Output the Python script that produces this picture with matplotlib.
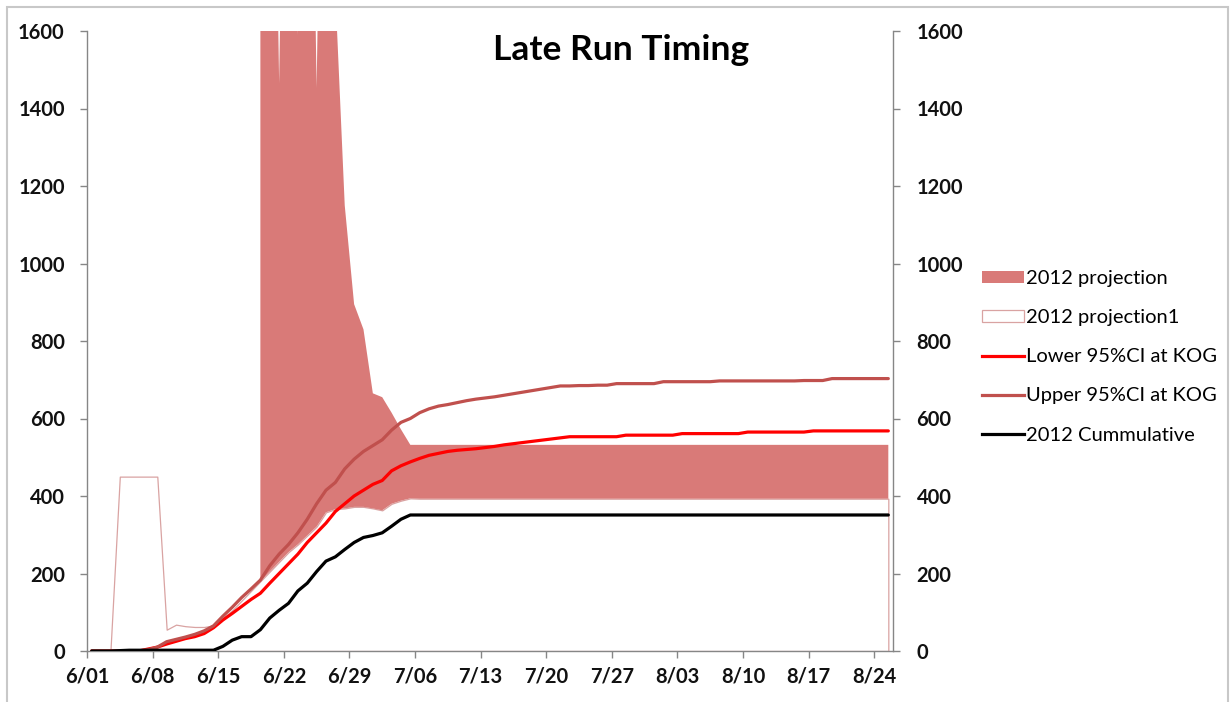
import numpy as np
import matplotlib
matplotlib.use("Agg")
import matplotlib.pyplot as plt
from matplotlib.patches import Patch, Rectangle
from matplotlib.lines import Line2D

plt.rcParams['font.family'] = ['Lato', 'DejaVu Sans']

# ---------------- data ----------------
# day index 0 = 6/01 ... 85 = 8/25
days = np.arange(86)

# 2012 projection1 (white base area of the stack)
projection1 = np.array(
    [0, 0, 0, 450, 450, 450, 450, 450, 55, 68,
     64, 62, 62, 66, 85, 105, 130, 155, 180, 205,
     230, 255, 275, 298, 321, 358, 366, 368, 372, 372,
     368, 363, 380, 388, 394] + [393] * 51, dtype=float)

# 2012 projection top (stack total) from day 18 on
proj_start = 18
projection_total = np.array(
    [3000, 3000, 1465, 3000, 1590, 3000, 1453, 3000, 1700, 1150,
     895, 830, 665, 655, 615, 572, 532] + [532] * 51, dtype=float)
projection = projection_total - projection1[proj_start:]

lower_ci = np.array(
    [0, 0, 0, 0, 0, 0, 5, 10, 18, 25,
     32, 37, 45, 60, 80, 97, 115, 133, 149, 175,
     200, 225, 250, 280, 305, 330, 360, 380, 400, 415,
     430, 440, 465, 478, 488, 497, 505, 510, 515, 518,
     520, 522, 525, 528, 532, 535, 538, 541, 544, 547,
     550, 553, 553, 553, 553, 553, 553, 557, 557, 557,
     557, 557, 557, 561, 561, 561, 561, 561, 561, 561,
     565, 565, 565, 565, 565, 565, 565, 568, 568, 568,
     568, 568, 568, 568, 568, 568], dtype=float)

upper_ci = np.array(
    [0, 0, 0, 0, 0, 0, 3, 10, 24, 30,
     36, 43, 52, 65, 90, 113, 138, 160, 183, 220,
     250, 275, 305, 340, 380, 415, 435, 470, 495, 515,
     530, 545, 570, 590, 600, 615, 625, 632, 636, 641,
     646, 650, 653, 656, 660, 664, 668, 672, 676, 680,
     684, 684, 685, 685, 686, 686, 690, 690, 690, 690,
     690, 695, 695, 695, 695, 695, 695, 697, 697, 697,
     697, 697, 697, 697, 697, 697, 698, 698, 698, 703,
     703, 703, 703, 703, 703, 703], dtype=float)

cumulative = np.array(
    [0, 0, 0, 1, 2, 2, 2, 2, 2, 2,
     2, 2, 2, 2, 12, 28, 37, 37, 55, 85,
     105, 123, 155, 175, 205, 232, 243, 262, 280, 293,
     298, 305, 322, 340, 351] + [351] * 51, dtype=float)

tick_days = [0, 7, 14, 21, 28, 35, 42, 49, 56, 63, 70, 77, 84]
tick_labels = ['6/01', '6/08', '6/15', '6/22', '6/29', '7/06', '7/13',
               '7/20', '7/27', '8/03', '8/10', '8/17', '8/24']
y_ticks = [0, 200, 400, 600, 800, 1000, 1200, 1400, 1600]

# ---------------- style ----------------
c_proj = '#D97A78'
c_proj1_edge = '#D9A3A2'
c_lower = '#FF0000'
c_upper = '#C0504D'
c_cum = '#000000'
c_axis = '#868686'
tick_fs = 14.5

fig = plt.figure(figsize=(12.31, 7.02), dpi=100)
ax = fig.add_axes([87 / 1231, 1 - 651 / 702, (893 - 87) / 1231, (651 - 31) / 702])

x = days + 0.5  # each date sits in the middle of its one-day slot

ax.fill_between(x, 0, projection1, facecolor='white', edgecolor=c_proj1_edge,
                linewidth=0.9, zorder=1)
xs = x[proj_start:]
ax.fill_between(xs, projection1[proj_start:], projection1[proj_start:] + projection,
                facecolor=c_proj, edgecolor='none', linewidth=0, zorder=1.2)

ax.plot(x, lower_ci, color=c_lower, lw=2.3, zorder=3, solid_capstyle='round')
ax.plot(x, upper_ci, color=c_upper, lw=2.3, zorder=3.1, solid_capstyle='round')
ax.plot(x, cumulative, color=c_cum, lw=2.3, zorder=3.2, solid_capstyle='round')

ax.set_xlim(0, 86)
ax.set_ylim(0, 1600)
ax.set_xticks(tick_days)
ax.set_xticklabels(tick_labels)
ax.set_yticks(y_ticks)
ax.set_yticklabels([str(v) for v in y_ticks])

for s in ['top', 'right']:
    ax.spines[s].set_visible(False)
for s in ['left', 'bottom']:
    ax.spines[s].set_color(c_axis)
    ax.spines[s].set_linewidth(1.0)
ax.tick_params(axis='both', direction='out', color=c_axis, length=5, width=1,
               labelsize=tick_fs, labelcolor='#111111')
ax.tick_params(axis='x', pad=6)
ax.tick_params(axis='y', pad=11)
for lab in ax.get_xticklabels() + ax.get_yticklabels():
    lab.set_fontweight('bold')

ax2 = ax.twinx()
ax2.set_position(ax.get_position())
ax2.set_ylim(0, 1600)
ax2.set_yticks(y_ticks)
ax2.set_yticklabels([str(v) for v in y_ticks])
for s in ['top', 'left', 'bottom']:
    ax2.spines[s].set_visible(False)
ax2.spines['right'].set_color(c_axis)
ax2.spines['right'].set_linewidth(1.0)
ax2.tick_params(axis='y', direction='out', color=c_axis, length=5, width=1,
                labelsize=tick_fs, labelcolor='#111111', pad=12)
for lab in ax2.get_yticklabels():
    lab.set_fontweight('bold')

fig.text(621 / 1231, 1 - 50 / 702, 'Late Run Timing', ha='center', va='center',
         fontsize=25.5, fontweight='bold', color='#000000')

handles = [
    Patch(facecolor=c_proj, edgecolor='none'),
    Patch(facecolor='white', edgecolor=c_proj1_edge, linewidth=0.9),
    Line2D([], [], color=c_lower, lw=2.3),
    Line2D([], [], color=c_upper, lw=2.3),
    Line2D([], [], color=c_cum, lw=2.3),
]
labels = ['2012 projection', '2012 projection1', 'Lower 95%CI at KOG',
          'Upper 95%CI at KOG', '2012 Cummulative']
fig.legend(handles, labels, loc='upper left', bbox_to_anchor=(982 / 1231, 1 - 270 / 702),
           frameon=False, fontsize=14.5, handlelength=2.1, handleheight=0.55,
           handletextpad=0.1, labelspacing=1.1, borderpad=0, borderaxespad=0)

fig.patches.append(Rectangle((7 / 1231, -0.01), (1228 - 7) / 1231, 1 - 7 / 702 + 0.01,
                             transform=fig.transFigure, fill=False,
                             edgecolor='#C8C8C8', linewidth=1.5))

fig.savefig('out.png', dpi=100)
